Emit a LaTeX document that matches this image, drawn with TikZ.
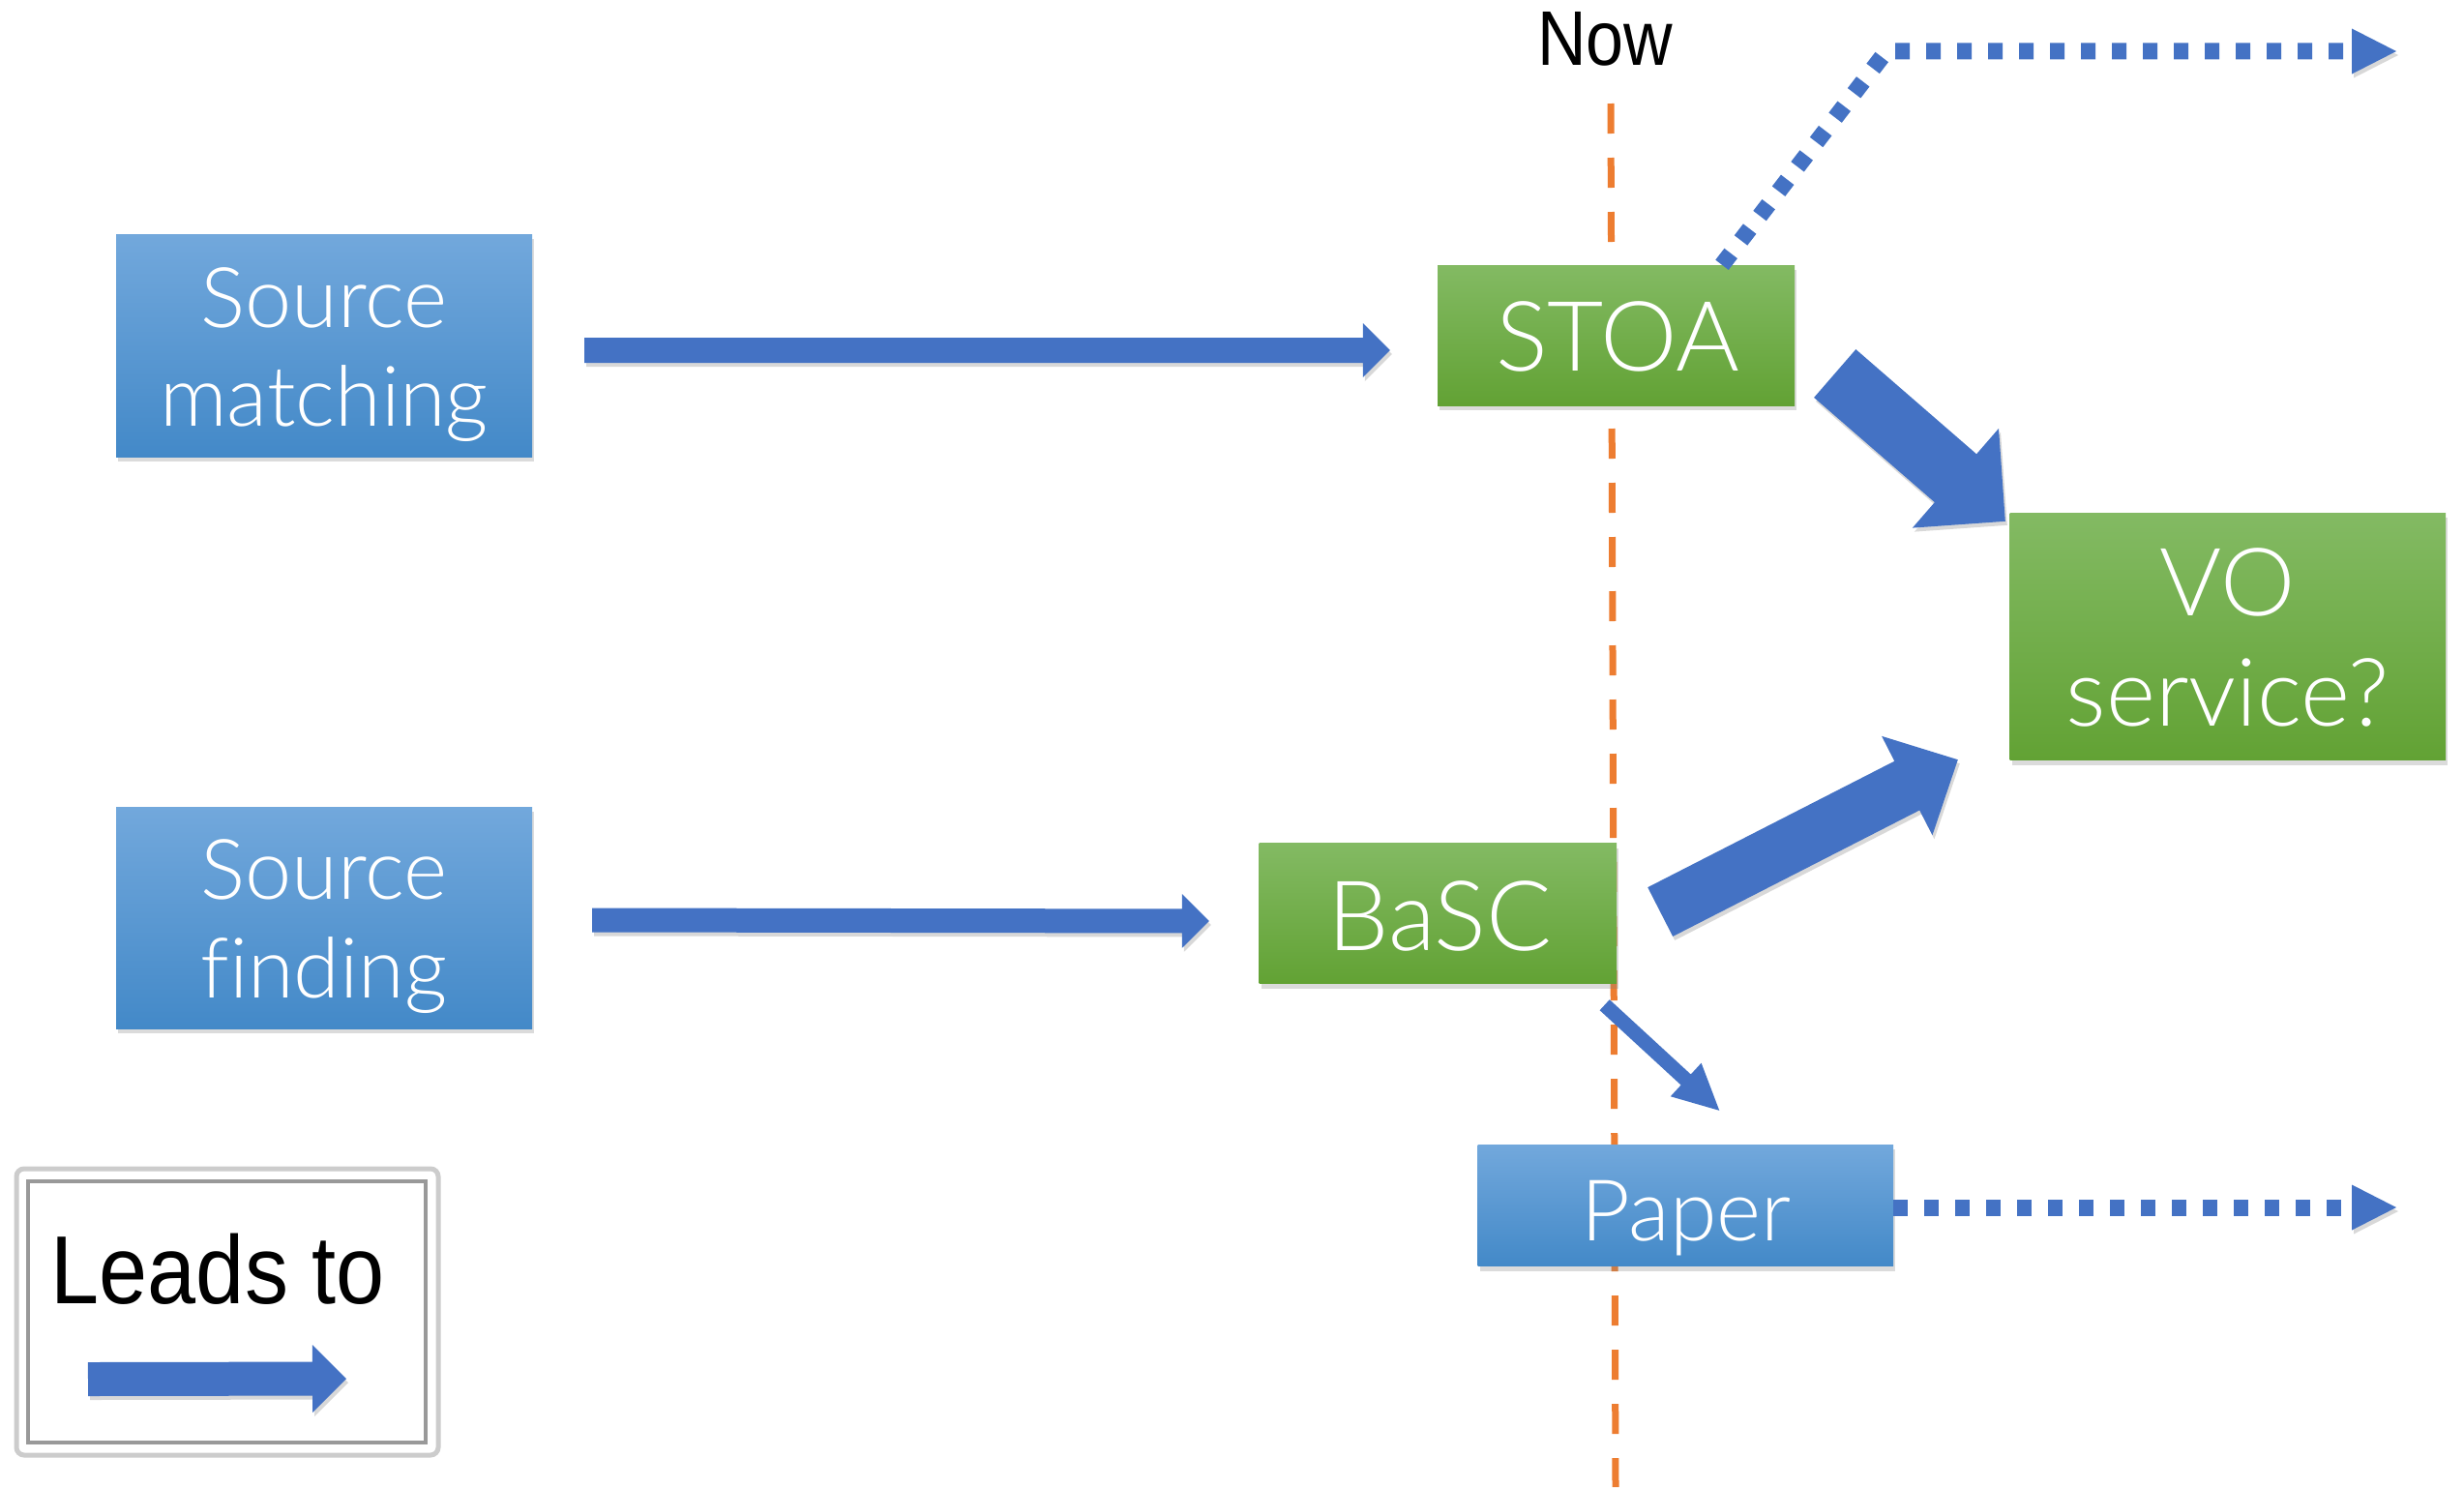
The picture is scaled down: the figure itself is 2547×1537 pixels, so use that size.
\documentclass[tikz,border=0pt]{standalone}
\usepackage{fontspec}
\setmainfont{Liberation Sans}
\newfontfamily\boxfont[Ligatures=NoCommon]{Lato Light}
\usetikzlibrary{calc,shadows}
\definecolor{arrowblue}{RGB}{68,114,196}
\definecolor{nowor}{RGB}{237,125,49}
\definecolor{bluetop}{RGB}{114,168,220}
\definecolor{bluebot}{RGB}{67,137,200}
\definecolor{greentop}{RGB}{131,186,99}
\definecolor{greenbot}{RGB}{98,162,52}
% #1 options, #2 start, #3 tip, #4 half shaft width, #5 half head width, #6 head length
\newcommand\blockarrow[6][]{%
  \coordinate (bhA) at #2;
  \coordinate (bhB) at #3;
  \coordinate (bhH) at ($(bhB)!#6!(bhA)$);
  \fill[arrowblue,#1] ($(bhA)!#4!90:(bhB)$) -- ($(bhH)!#4!90:(bhB)$) -- ($(bhH)!#5!90:(bhB)$) -- (bhB)
     -- ($(bhH)!#5!-90:(bhB)$) -- ($(bhH)!#4!-90:(bhB)$) -- ($(bhA)!#4!-90:(bhB)$) -- cycle;
}
\tikzset{
  boxbase/.style={rectangle, inner sep=0pt, drop shadow={shadow xshift=2pt, shadow yshift=-5pt, opacity=0.28}},
  bluebox/.style={boxbase, top color=bluetop, bottom color=bluebot},
  greenbox/.style={boxbase, top color=greentop, bottom color=greenbot},
  boxtext/.style={text=white, inner sep=0pt, anchor=base},
  ashadow/.style={drop shadow={shadow xshift=2pt, shadow yshift=-4pt, opacity=0.3}},
  dotline/.style={arrowblue, line width=17pt, dash pattern=on 15pt off 17pt},
}
\begin{document}
\begin{tikzpicture}[x=1pt,y=-1pt]
\useasboundingbox (0,0) rectangle (2547,1537);
\fill[white] (0,0) rectangle (2547,1537);

% "Now" line
\coordinate (nowtop) at (1665,107);
\coordinate (nowbot) at (1670,1537);
\draw[nowor, line width=7pt, dash pattern=on 31pt off 25pt] (nowtop) -- (nowbot);
\node[anchor=base, inner sep=0pt, font=\fontsize{80}{96}\selectfont] (now) at (1659,67) {\scalebox{0.875}[1]{Now}};

% boxes
\node[bluebox, minimum width=430pt, minimum height=230pt] (sm) at (335,357) {};
\node[boxtext, font=\boxfont\fontsize{86.5}{100}\selectfont] (smt1) at (335,338) {Source};
\node[boxtext, font=\boxfont\fontsize{86.5}{100}\selectfont] (smt2) at (335,440) {matching};

\node[bluebox, minimum width=430pt, minimum height=229pt] (sf) at (335,948.5) {};
\node[boxtext, font=\boxfont\fontsize{86.5}{100}\selectfont] (sft1) at (335,929) {Source};
\node[boxtext, font=\boxfont\fontsize{86.5}{100}\selectfont] (sft2) at (335,1031) {finding};

\node[greenbox, minimum width=369pt, minimum height=145pt] (stoa) at (1670.5,346.5) {};
\node[boxtext, font=\boxfont\fontsize{100.5}{110}\selectfont] (stoat) at (1672,383) {STOA};

\node[greenbox, minimum width=450.5pt, minimum height=255.5pt] (vo) at (2302.75,657.75) {};
\node[boxtext, font=\boxfont\fontsize{97.7}{110}\selectfont] (vot1) at (2302.5,636) {VO};
\node[boxtext, font=\boxfont\fontsize{97.7}{110}\selectfont] (vot2) at (2302.5,750) {service?};

\node[greenbox, minimum width=369.5pt, minimum height=145pt] (basc) at (1486.25,944) {};
\node[boxtext, font=\boxfont\fontsize{100.5}{110}\selectfont] (basct) at (1488.5,982) {BaSC};

\node[bluebox, minimum width=429.5pt, minimum height=125.5pt] (paper) at (1742.25,1245.75) {};
\node[boxtext, font=\boxfont\fontsize{88}{100}\selectfont] (papert) at (1743,1282) {Paper};

% solid block arrows
\blockarrow[ashadow]{($(sm.east)+(54,5)$)}{($(stoa.west)+(-49,15.5)$)}{13pt}{28pt}{28pt}
\blockarrow[ashadow]{($(sf.east)+(62,2.5)$)}{($(basc.west)+(-51.5,8)$)}{12.5pt}{28pt}{28pt}
\blockarrow[ashadow]{($(stoa.east)+(41.5,39.5)$)}{($(vo.north west)+(-4.5,9)$)}{33pt}{68pt}{68pt}
\blockarrow[ashadow]{($(basc.east)+(45,-1.5)$)}{($(vo.south west)+(-53.5,-0.5)$)}{28.5pt}{57.5pt}{59pt}
\blockarrow{($(basc.south east)+(-12.5,22)$)}{($(paper.north)+(35,-35)$)}{7.5pt}{23.5pt}{47pt}

% dotted arrows
\coordinate (topend) at (2477,53);
\coordinate (paperend) at (2477,1248);
\draw[dotline] ($(stoa.north)+(109.5,0)$) -- ($(stoa.north)+(279.5,-221)$) -- ($(topend)+(-46,0)$);
\blockarrow[ashadow]{($(topend)+(-46,0)$)}{(topend)}{0pt}{23.5pt}{46pt}
\draw[dotline] (paper.east |- paperend) -- ($(paperend)+(-46,0)$);
\blockarrow[ashadow]{($(paperend)+(-46,0)$)}{(paperend)}{0pt}{23.5pt}{46pt}

% legend
\node[draw=black!20, line width=5pt, rounded corners=8pt, fill=white, minimum width=436pt, minimum height=296pt, inner sep=0pt] (legend) at (235,1356) {};
\node[draw=black!40, line width=4pt, minimum width=411pt, minimum height=270pt, inner sep=0pt] (legin) at (234.5,1356) {};
\node[anchor=base, inner sep=0pt, font=\fontsize{100}{120}\selectfont] (leadsto) at (225.5,1347) {\scalebox{0.9}[1]{Leads to}};
\blockarrow[ashadow]{($(legin.center)+(-143.5,69.5)$)}{($(legin.center)+(123.5,69)$)}{17.5pt}{35pt}{35pt}
\end{tikzpicture}
\end{document}
